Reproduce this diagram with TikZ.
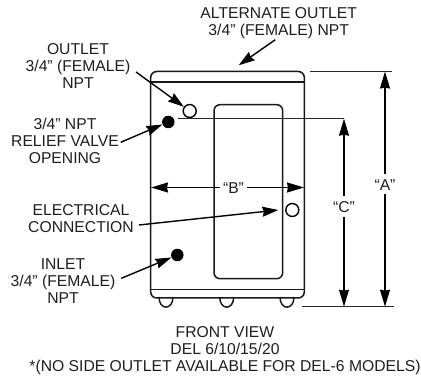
\documentclass[tikz,border=0pt]{standalone}
\usepackage{fontspec}
\setmainfont{Liberation Sans}
\usetikzlibrary{arrows.meta}
\tikzset{
  lbl/.style={inner sep=0pt,align=center,font=\fontsize{15.7}{17}\selectfont,text=black!88},
  dim/.style={inner sep=0pt,font=\fontsize{15.7}{17}\selectfont,text=black!88},
  body/.style={line width=1.5pt,black!90},
  thin1/.style={line width=1.1pt,black!85},
  ldr/.style={line width=1.4pt,-{Stealth[length=16pt,width=10pt,inset=1.5pt]}},
  dimarrow/.style={line width=1.4pt,-{Stealth[length=17pt,width=10pt,inset=1pt]}},
  port/.style={circle,inner sep=0pt,minimum size=13pt,line width=1.4pt,draw=black},
  portf/.style={circle,inner sep=0pt,minimum size=12.5pt,fill=black},
}
\begin{document}
\begin{tikzpicture}[x=1pt,y=-1pt]
\useasboundingbox[fill=white] (0,0) rectangle (421,379);
% feet
\foreach \x in {166,226.7,287}{
  \draw[body] (\x-7,297) .. controls (\x-7,310.5) and (\x+7,310.5) .. (\x+7,297);
}
% body
\draw[body,rounded corners=6pt] (228,71.5) -- (304.3,71.5) -- (304.3,298) -- (150.7,298) -- (150.7,71.5) -- cycle;
\draw[body] (150.7,82) -- (304.3,82);
\draw[body] (150.7,289.5) -- (304.3,289.5);
% window
\draw[body,rounded corners=6pt] (214,104.7) rectangle (282.7,278.7);
% ports
\node[port,fill=white] (outlet) at (189.7,111) {};
\node[portf] (relief) at (168.3,122) {};
\node[port,fill=white] (elec) at (292.3,210) {};
\node[portf] (inlet) at (177.3,255) {};
% labels
\node[lbl] (talt) at (278.7,23) {ALTERNATE OUTLET\\3/4” (FEMALE) NPT};
\node[lbl] (tout) at (78,66) {OUTLET\\3/4” (FEMALE)\\NPT};
\node[lbl] (trel) at (65,140.5) {3/4” NPT\\RELIEF VALVE\\OPENING};
\node[lbl] (tele) at (81,219) {ELECTRICAL\\CONNECTION};
\node[lbl] (tinl) at (63,281.5) {INLET\\3/4” (FEMALE)\\NPT};
\node[lbl] (tfront) at (225,351) {FRONT VIEW\\DEL 6/10/15/20\\*(NO SIDE OUTLET AVAILABLE FOR DEL-6 MODELS)};
% leaders
\coordinate (altA) at (275.3,39.7);
\coordinate (altB) at (238.7,65.3);
\draw[ldr] (altA) -- (altB);
\coordinate (outA) at (136,72);
\draw[ldr] (outA) -- (outlet);
\coordinate (relA) at (120.7,142.3);
\draw[ldr] (relA) -- (relief);
\coordinate (eleA) at (139,225);
\coordinate (eleB) at (278.3,210);
\draw[ldr] (eleA) -- (eleB);
\coordinate (inlA) at (121.3,278.3);
\draw[ldr] (inlA) -- (inlet);
% extension lines
\coordinate (aTop1) at (310,71.5); \coordinate (aTop2) at (392,71.5);
\coordinate (cTop1) at (177.7,118.7); \coordinate (cTop2) at (344,118.7);
\coordinate (bot1) at (302,306.7); \coordinate (bot2) at (394,306.7);
\draw[thin1] (aTop1) -- (aTop2);
\draw[thin1] (cTop1) -- (cTop2);
\draw[thin1] (bot1) -- (bot2);
% dimensions
\node[dim] (dimA) at (385,185) {“A”};
\node[dim] (dimB) at (233.5,188) {“B”};
\node[dim] (dimC) at (344,207) {“C”};
\coordinate (aT) at (385,71.5); \coordinate (aB) at (385,306.7);
\coordinate (cT) at (344,118.7); \coordinate (cB) at (344,306.7);
\coordinate (bL) at (151,187.5); \coordinate (bR) at (304,187.5);
\coordinate (bLi) at (220,187.5); \coordinate (bRi) at (247,187.5);
\coordinate (aU) at (385,174); \coordinate (aD) at (385,194.5);
\coordinate (cU) at (344,196); \coordinate (cD) at (344,217);
\draw[dimarrow] (aU) -- (aT);
\draw[dimarrow] (aD) -- (aB);
\draw[dimarrow] (cU) -- (cT);
\draw[dimarrow] (cD) -- (cB);
\draw[dimarrow] (bLi) -- (bL);
\draw[dimarrow] (bRi) -- (bR);
\end{tikzpicture}
\end{document}
